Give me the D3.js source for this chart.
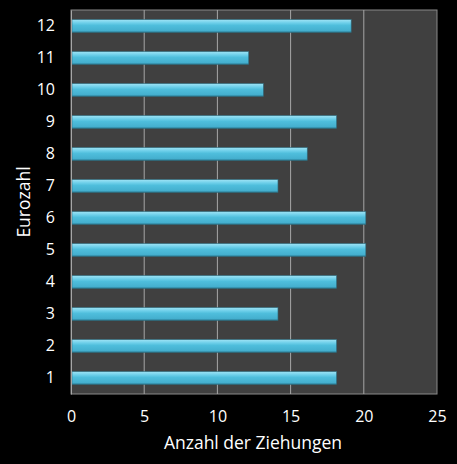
<!DOCTYPE html>
<html>
<head>
<meta charset="utf-8">
<script src="https://cdn.jsdelivr.net/npm/d3@7"></script>
<style>
  html, body { margin: 0; padding: 0; background: #000; }
  svg { display: block; }
  text { font-family: "Open Sans", "Noto Sans", sans-serif; fill: #fff; }
</style>
</head>
<body>
<div id="chart"></div>
<script>
// Eurozahl -> Anzahl der Ziehungen
var categories = ['1', '2', '3', '4', '5', '6', '7', '8', '9', '10', '11', '12'];
var draws = [18, 18, 14, 18, 20, 20, 14, 16, 18, 13, 12, 19];
var xTicks = [0, 5, 10, 15, 20, 25];

var width = 457, height = 464;
var margin = {top: 10, right: 20, bottom: 70, left: 71};
var innerW = width - margin.left - margin.right,
    innerH = height - margin.top - margin.bottom;

var svg = d3.select('#chart').append('svg')
  .attr('width', width)
  .attr('height', height);

var defs = svg.append('defs');
var grad = defs.append('linearGradient')
  .attr('id', 'barGrad')
  .attr('x1', 0).attr('y1', 0).attr('x2', 0).attr('y2', 1);
grad.append('stop').attr('offset', '0%').attr('stop-color', '#9fe3f5');
grad.append('stop').attr('offset', '25%').attr('stop-color', '#6fd0ea');
grad.append('stop').attr('offset', '45%').attr('stop-color', '#4fbedc');
grad.append('stop').attr('offset', '85%').attr('stop-color', '#45b0cf');
grad.append('stop').attr('offset', '100%').attr('stop-color', '#2a7d96');

var g = svg.append('g')
  .attr('transform', 'translate(' + margin.left + ',' + margin.top + ')');

var x = d3.scaleLinear().domain([0, 25]).range([0, innerW]);
var y = d3.scaleBand()
  .domain(categories.slice().reverse())
  .range([0, innerH])
  .paddingInner(0.6)
  .paddingOuter(0.3);

// plot background
g.append('rect')
  .attr('width', innerW)
  .attr('height', innerH)
  .attr('fill', '#404040')
  .attr('stroke', '#8a8a8a')
  .attr('stroke-width', 1);

// vertical gridlines
g.selectAll('line.grid')
  .data(xTicks.slice(1, -1))
  .enter().append('line')
    .attr('class', 'grid')
    .attr('x1', function(d) { return x(d); })
    .attr('x2', function(d) { return x(d); })
    .attr('y1', 0)
    .attr('y2', innerH)
    .attr('stroke', '#a6a6a6')
    .attr('stroke-width', 1);

// bars
g.selectAll('rect.bar')
  .data(categories)
  .enter().append('rect')
    .attr('class', 'bar')
    .attr('x', 1)
    .attr('y', function(d) { return y(d); })
    .attr('width', function(d, i) { return x(draws[i]) + 1; })
    .attr('height', y.bandwidth())
    .attr('fill', 'url(#barGrad)')
    .attr('stroke', '#2f6f82')
    .attr('stroke-width', 0.6);

// axes
var xAxis = g.append('g')
  .attr('transform', 'translate(0,' + innerH + ')')
  .call(d3.axisBottom(x).tickValues(xTicks).tickSize(0).tickPadding(17));
xAxis.select('.domain').remove();
xAxis.selectAll('text').style('font-size', '16px').attr('fill', '#fff');

var yAxis = g.append('g')
  .call(d3.axisLeft(y).tickSize(0).tickPadding(16));
yAxis.select('.domain').attr('stroke', '#a6a6a6');
yAxis.selectAll('text').style('font-size', '16px').attr('fill', '#fff');

// axis titles
svg.append('text')
  .attr('x', margin.left + innerW / 2 - 1)
  .attr('y', 449)
  .attr('text-anchor', 'middle')
  .style('font-size', '17.5px')
  .text('Anzahl der Ziehungen');

svg.append('text')
  .attr('transform', 'translate(30,' + (margin.top + innerH / 2) + ')rotate(-90)')
  .attr('text-anchor', 'middle')
  .style('font-size', '17.5px')
  .text('Eurozahl');
</script>
</body>
</html>
